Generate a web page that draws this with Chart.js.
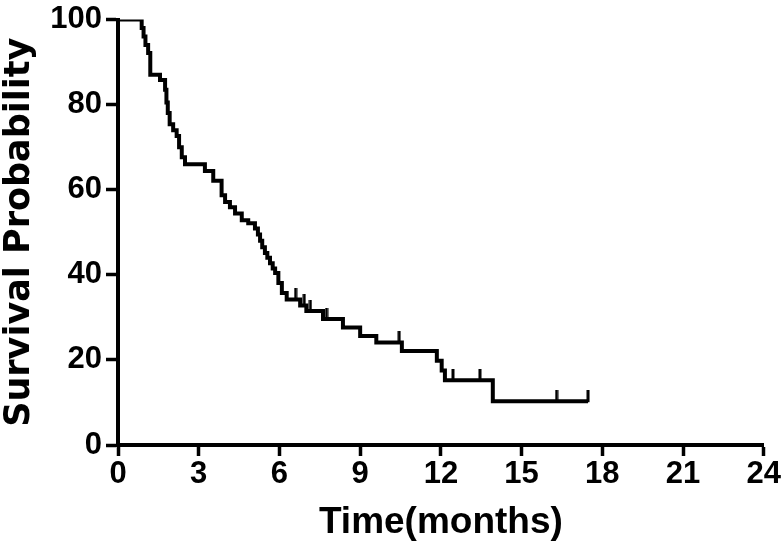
<!DOCTYPE html>
<html>
<head>
<meta charset="utf-8">
<script src="https://cdn.jsdelivr.net/npm/chart.js@4.4.1/dist/chart.umd.min.js"></script>
<style>
    html, body { margin: 0; padding: 0; background: #fff; }
</style>
</head>
<body>
<canvas id="survivalChart" width="784" height="549"></canvas>
<script>
// Kaplan-Meier steps: time of each drop (months) and survival after it (%)
const eventTimes = [0, 0.88, 0.95, 1.02, 1.12, 1.2, 1.56, 1.75, 1.8, 1.85, 1.92,
    2.05, 2.18, 2.27, 2.37, 2.49, 3.23, 3.54, 3.85, 3.98, 4.16,
    4.35, 4.6, 4.84, 5.09, 5.2, 5.28, 5.36, 5.46, 5.55, 5.65,
    5.75, 5.84, 5.96, 6.09, 6.27, 6.77, 7.0, 7.62, 8.36, 9.0,
    9.6, 10.55, 11.85, 12.03, 12.15, 13.93, 17.47];
const survival = [100, 98, 96, 94, 92.1, 87, 85.8, 83.5, 80.5, 78, 75.4,
    74, 72.6, 70, 67.6, 66, 64.4, 62.1, 58.7, 57.1, 55.9,
    54.4, 52.8, 52.1, 50.9, 49.5, 48, 46.5, 45.1, 44, 42.7,
    41.5, 40.4, 38.1, 35.7, 34.2, 32.8, 31.5, 29.6, 27.6, 25.6,
    24.1, 22.1, 19.8, 17.5, 15.2, 10.3, 10.3];

// censored patients (tick marks)
const censorTimes = [6.6, 6.92, 7.15, 7.75, 10.45, 12.45, 13.45, 16.3, 17.47];
const censorSurvival = [34.2, 32.8, 31.5, 29.6, 24.1, 15.2, 15.2, 10.3, 10.3];

const xTicks = [0, 3, 6, 9, 12, 15, 18, 21, 24];
const yTicks = [0, 20, 40, 60, 80, 100];

const tickFont = "'Liberation Sans', Arial, sans-serif";

// small upward tick used as point style for censored data
function makeCensorMark() {
    const c = document.createElement('canvas');
    c.width = 4;
    c.height = 22;
    const g = c.getContext('2d');
    g.fillStyle = '#000';
    g.fillRect(0.5, 0, 3, 12);
    return c;
}

const kmData = eventTimes.map((t, i) => ({x: t, y: survival[i]}));
const censorData = censorTimes.map((t, i) => ({x: t, y: censorSurvival[i]}));

const ctx = document.getElementById('survivalChart').getContext('2d');
const chart = new Chart(ctx, {
    type: 'line',
    data: {
        datasets: [{
            label: 'Survival',
            data: kmData,
            stepped: 'before',
            borderColor: '#000',
            borderWidth: 4,
            pointRadius: 0,
            fill: false
        }, {
            label: 'Censored',
            type: 'scatter',
            data: censorData,
            pointStyle: makeCensorMark(),
            pointRadius: 6,
            showLine: false
        }]
    },
    options: {
        responsive: false,
        animation: false,
        layout: {
            padding: {top: 12, right: 19, bottom: 0, left: 0}
        },
        plugins: {
            legend: {display: false},
            tooltip: {enabled: false}
        },
        scales: {
            x: {
                type: 'linear',
                min: 0,
                max: 24,
                afterBuildTicks: function (scale) {
                    scale.ticks = xTicks.map(v => ({value: v}));
                },
                afterFit: function (scale) {
                    scale.height = 104;
                },
                grid: {
                    drawOnChartArea: false,
                    drawTicks: true,
                    tickLength: 11,
                    tickWidth: 3.5,
                    color: '#000'
                },
                border: {display: true, color: '#000', width: 4},
                ticks: {
                    color: '#000',
                    padding: 3,
                    maxRotation: 0,
                    font: {family: tickFont, size: 31, weight: 'bold', lineHeight: 1}
                },
                title: {
                    display: true,
                    text: 'Time(months)',
                    color: '#000',
                    padding: {top: 4, bottom: 4},
                    font: {family: tickFont, size: 37, weight: 'bold', lineHeight: 1.2}
                }
            },
            y: {
                min: 0,
                max: 100,
                afterBuildTicks: function (scale) {
                    scale.ticks = yTicks.map(v => ({value: v}));
                },
                afterFit: function (scale) {
                    scale.width = 118;
                },
                grid: {
                    drawOnChartArea: false,
                    drawTicks: true,
                    tickLength: 12,
                    tickWidth: 3.5,
                    color: '#000'
                },
                border: {display: true, color: '#000', width: 4},
                ticks: {
                    color: '#000',
                    padding: 4,
                    font: {family: tickFont, size: 31, weight: 'bold', lineHeight: 1}
                },
                title: {
                    display: true,
                    text: 'Survival Probability',
                    color: '#000',
                    padding: {top: 0, bottom: 0},
                    font: {family: "'DejaVu Sans', sans-serif", size: 35, weight: 'bold', lineHeight: 1.15}
                }
            }
        }
    }
});
</script>
</body>
</html>
